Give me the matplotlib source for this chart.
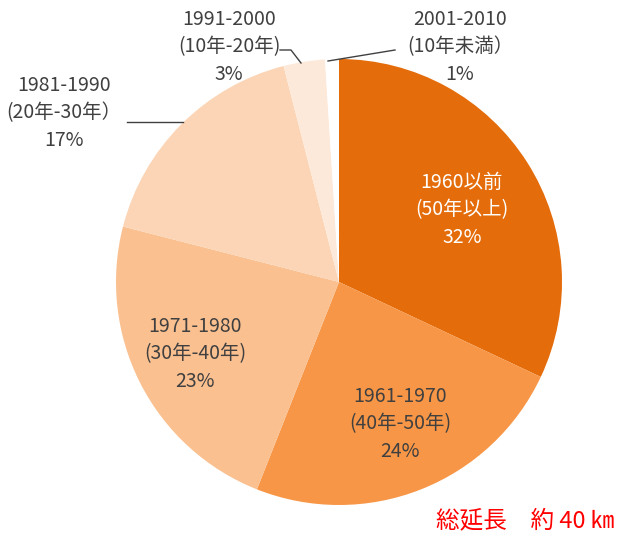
import matplotlib.pyplot as plt

plt.rcParams['font.family'] = ['Noto Sans CJK JP', 'DejaVu Sans']

# data
periods = ['1960以前', '1961-1970', '1971-1980', '1981-1990', '1991-2000', '2001-2010']
ages = ['(50年以上)', '(40年-50年)', '(30年-40年)', '(20年-30年）', '(10年-20年)', '(10年未満）']
shares = [32, 24, 23, 17, 3, 1]
colors = ['#E46C0A', '#F79646', '#FAC090', '#FBD5B5', '#FDE9D9', '#FFFFFF']

W, H = 618, 533
fig = plt.figure(figsize=(W / 100, H / 100), dpi=100)
ax = fig.add_axes([0, 0, 1, 1])

cx, cy, r = 339, H - 282, 223
ax.pie(shares, colors=colors, startangle=90, counterclock=False,
       center=(cx, cy), radius=r, wedgeprops=dict(linewidth=0))
ax.set_xlim(0, W)
ax.set_ylim(0, H)
ax.set_aspect('equal')
ax.axis('off')

# label positions in pixel coords (x, y from top)
label_pos = [(462, 210), (400, 424), (195, 354), (64, 113), (229, 47), (460, 47)]
text_cols = ['white', '#404040', '#404040', '#404040', '#404040', '#404040']
for per, age, s, (x, y), c in zip(periods, ages, shares, label_pos, text_cols):
    ax.text(x, H - y, f'{per}\n{age}\n{s}%', ha='center', va='center',
            fontsize=14, color=c, linespacing=1.4)

# leader lines
ax.plot([127, 183], [H - 122, H - 122], color='#404040', lw=1)
ax.plot([280, 291, 301], [H - 50, H - 50, H - 63], color='#404040', lw=1)
ax.plot([328, 395], [H - 61, H - 50], color='#404040', lw=1)

ax.text(614, H - 521, '総延長\u3000約 40 ㎞', ha='right', va='center',
        fontsize=17, color='#FF0000')

fig.savefig('out.png', dpi=100)
